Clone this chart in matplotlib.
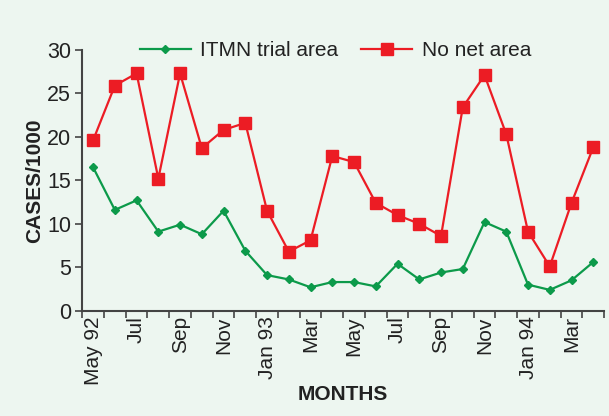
import numpy as np
import matplotlib
matplotlib.use("Agg")
import matplotlib.pyplot as plt

plt.rcParams['font.family'] = ['Liberation Sans', 'DejaVu Sans']

# data
months = ['May 92', 'Jun', 'Jul', 'Aug', 'Sep', 'Oct', 'Nov', 'Dec',
          'Jan 93', 'Feb', 'Mar', 'Apr', 'May', 'Jun', 'Jul', 'Aug',
          'Sep', 'Oct', 'Nov', 'Dec', 'Jan 94', 'Feb', 'Mar', 'Apr']
itmn = [16.5, 11.6, 12.7, 9.1, 9.9, 8.8, 11.5, 6.9, 4.1, 3.6, 2.7, 3.3,
        3.3, 2.8, 5.4, 3.6, 4.4, 4.8, 10.2, 9.1, 3.0, 2.4, 3.5, 5.6]
no_net = [19.6, 25.9, 27.3, 15.2, 27.3, 18.7, 20.8, 21.6, 11.5, 6.8, 8.1, 17.8,
          17.1, 12.4, 11.0, 10.0, 8.6, 23.4, 27.1, 20.3, 9.1, 5.1, 12.4, 18.8]

bg = '#edf6f0'
green = '#0c9a4a'
red = '#ec1c24'

fig = plt.figure(figsize=(6.09, 4.16), dpi=100, facecolor=bg)
ax = fig.add_axes([0.135, 0.253, 0.857, 0.627], facecolor=bg)

x = np.arange(len(months))
ax.plot(x, itmn, color=green, lw=1.6, marker='D', ms=4.5, mec=green,
        mfc=green, label='ITMN trial area')
ax.plot(x, no_net, color=red, lw=1.6, marker='s', ms=8, mec=red,
        mfc=red, label='No net area')

ax.set_xlim(-0.5, len(months) - 0.5)
ax.set_ylim(0, 30)
ax.set_yticks(range(0, 31, 5))

# ticks between categories, labels every other month
ax.set_xticks(np.arange(-0.5, len(months)), minor=False)
ax.set_xticklabels([])
ax.set_xticks(x[::2], minor=True)
ax.set_xticklabels(months[::2], minor=True, rotation=90, fontsize=15)
ax.tick_params(axis='x', which='minor', length=0, pad=4)
ax.tick_params(axis='x', which='major', length=5, width=1.2, color='#444444')
ax.tick_params(axis='y', length=5, width=1.2, color='#444444', labelsize=15.5,
               pad=3)
for lab in ax.get_xticklabels(minor=True) + ax.get_yticklabels():
    lab.set_color('#222222')

for s in ['top', 'right']:
    ax.spines[s].set_visible(False)
for s in ['left', 'bottom']:
    ax.spines[s].set_color('#444444')
    ax.spines[s].set_linewidth(1.5)

ax.set_ylabel('CASES/1000', fontsize=15, fontweight='bold', color='#222222',
              labelpad=2)
ax.set_xlabel('MONTHS', fontsize=15, fontweight='bold', color='#222222',
              labelpad=0)

leg = ax.legend(loc='upper center', bbox_to_anchor=(0.485, 1.105), ncol=2,
                frameon=False, fontsize=15, numpoints=1, handlelength=2.45,
                columnspacing=1.1, handletextpad=0.45)
for t in leg.get_texts():
    t.set_color('#222222')

fig.savefig('out.png', dpi=100, facecolor=bg)
